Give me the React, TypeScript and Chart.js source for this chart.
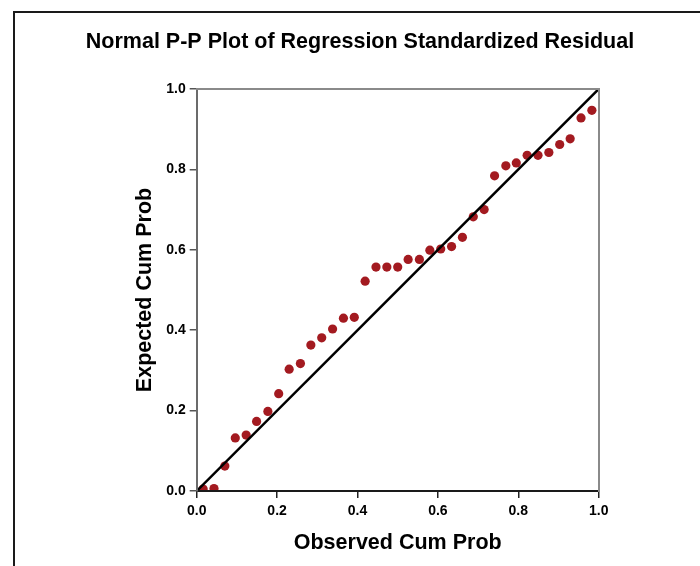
import React, { useEffect, useRef } from "react";
import { Chart, registerables } from "chart.js";

Chart.register(...registerables);

const chartTitle = "Normal P-P Plot of Regression Standardized Residual";
const xTitle = "Observed Cum Prob";
const yTitle = "Expected Cum Prob";
const tickLabels = ["0.0", "0.2", "0.4", "0.6", "0.8", "1.0"];

const observed = [
  0.016, 0.043, 0.070, 0.096, 0.123, 0.149, 0.177, 0.204, 0.230, 0.258,
  0.284, 0.311, 0.338, 0.365, 0.392, 0.419, 0.446, 0.473, 0.500, 0.526,
  0.554, 0.580, 0.607, 0.634, 0.661, 0.688, 0.715, 0.741, 0.769, 0.795,
  0.822, 0.849, 0.876, 0.903, 0.929, 0.956, 0.983,
];
const expected = [
  0.005, 0.006, 0.062, 0.132, 0.139, 0.173, 0.198, 0.242, 0.303, 0.317,
  0.363, 0.381, 0.403, 0.430, 0.432, 0.522, 0.557, 0.557, 0.557, 0.576,
  0.576, 0.599, 0.602, 0.608, 0.631, 0.682, 0.700, 0.784, 0.809, 0.816,
  0.835, 0.835, 0.842, 0.862, 0.876, 0.928, 0.947,
];
const refX = [0, 1];
const refY = [0, 1];

const FONT = "'Liberation Sans', Arial, sans-serif";

export default function App() {
  const ref = useRef<HTMLCanvasElement | null>(null);

  useEffect(() => {
    if (!ref.current) return;
    const tickCb = (_v: any, i: number) => tickLabels[i];
    const chart = new Chart(ref.current, {
      type: "scatter",
      data: {
        datasets: [
          {
            data: refX.map((x, i) => ({ x, y: refY[i] })),
            showLine: true,
            borderColor: "#000000",
            borderWidth: 2.5,
            pointRadius: 0,
            fill: false,
            order: 0,
          } as any,
          {
            data: observed.map((x, i) => ({ x, y: expected[i] })),
            pointRadius: 4.6,
            pointBorderWidth: 0,
            backgroundColor: "#A31A20",
            borderColor: "#A31A20",
            order: 1,
          } as any,
        ],
      },
      options: {
        animation: false,
        responsive: false,
        events: [],
        layout: { padding: { left: 20, right: 0, top: 0, bottom: 0 } },
        plugins: {
          legend: { display: false },
          tooltip: { enabled: false },
          title: {
            display: true,
            text: chartTitle,
            color: "#000000",
            font: { family: FONT, size: 21.5, weight: "bold" },
            padding: { top: 29, bottom: 34.2 },
          },
        },
        scales: {
          x: {
            type: "linear",
            position: "bottom",
            min: 0,
            max: 1,
            afterFit: (s: any) => {
              s.height = 75;
            },
            ticks: {
              stepSize: 0.2,
              callback: tickCb,
              color: "#000000",
              padding: 5,
              maxRotation: 0,
              font: { family: FONT, size: 14, weight: "bold" },
            },
            grid: {
              drawOnChartArea: false,
              drawTicks: true,
              tickLength: 7,
              color: "#222222",
              lineWidth: 1.5,
            },
            border: { display: true, color: "#1a1a1a", width: 2, z: 1 },
            title: {
              display: true,
              text: xTitle,
              color: "#000000",
              font: { family: FONT, size: 21.5, weight: "bold" },
              padding: { top: 0, bottom: 10.1 },
            },
          },
          y: {
            type: "linear",
            position: "left",
            min: 0,
            max: 1,
            afterFit: (s: any) => {
              s.width = 176.7;
            },
            ticks: {
              stepSize: 0.2,
              callback: tickCb,
              color: "#000000",
              padding: 4,
              font: { family: FONT, size: 14, weight: "bold" },
            },
            grid: {
              drawOnChartArea: false,
              drawTicks: true,
              tickLength: 7,
              color: "#555555",
              lineWidth: 1.5,
            },
            border: { display: true, color: "#6b6b6b", width: 2, z: 1 },
            title: {
              display: true,
              text: yTitle,
              color: "#000000",
              font: { family: FONT, size: 21.5, weight: "bold" },
              padding: { top: 112.1, bottom: 0 },
            },
          },
          x2: {
            type: "linear",
            position: "top",
            min: 0,
            max: 1,
            afterFit: (s: any) => {
              s.height = 0;
            },
            ticks: { display: false },
            grid: { display: false },
            border: { display: true, color: "#8a8a8a", width: 2, z: 1 },
          },
          y2: {
            type: "linear",
            position: "right",
            min: 0,
            max: 1,
            afterFit: (s: any) => {
              s.width = 101.3;
            },
            ticks: { display: false },
            grid: { display: false },
            border: { display: true, color: "#8a8a8a", width: 2, z: 1 },
          },
        },
      } as any,
    });
    return () => chart.destroy();
  }, []);

  return (
    <div
      style={{
        position: "fixed",
        left: 0,
        top: 0,
        width: 700,
        height: 566,
        background: "#ffffff",
        overflow: "hidden",
      }}
    >
      <canvas
        ref={ref}
        width={700}
        height={566}
        style={{ display: "block", width: 700, height: 566 }}
      />
      <div
        style={{
          position: "absolute",
          left: 13,
          top: 11,
          width: 720,
          height: 600,
          borderLeft: "2px solid #1a1a1a",
          borderTop: "2px solid #1a1a1a",
          pointerEvents: "none",
        }}
      />
    </div>
  );
}
